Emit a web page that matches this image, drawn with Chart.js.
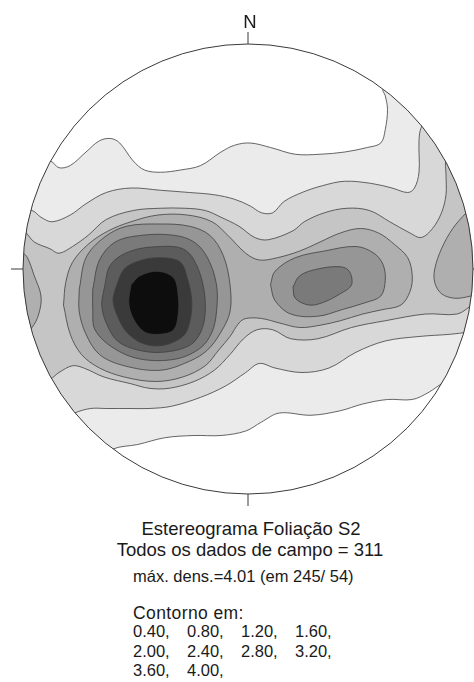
<!DOCTYPE html>
<html lang="pt">
<head>
<meta charset="utf-8">
<title>Estereograma Foliação S2</title>
<script src="https://cdn.jsdelivr.net/npm/chart.js@4.4.1/dist/chart.umd.min.js"></script>
<style>
  html, body { margin: 0; padding: 0; background: #ffffff; }
  body { width: 474px; height: 682px; position: relative; overflow: hidden;
         font-family: "Liberation Sans", Arial, sans-serif; color: #1a1a1a; }
  #net { position: absolute; left: 0; top: 0; width: 474px; height: 515px; }
  .t { position: absolute; white-space: nowrap; line-height: 1; }
  .big { font-size: 18.5px; }
  .small { font-size: 16.5px; }
  .label { font-size: 17.5px; letter-spacing: 0.4px; }
  .centre { transform: translateX(-50%); }
  .col { display: inline-block; width: 54px; }
</style>
</head>
<body>
<div id="net"><canvas id="chart"></canvas></div>
<div class="t big centre" id="north" style="left:250px; top:13px;">N</div>
<div class="t big centre" id="title1" style="left:251px; top:520px;"></div>
<div class="t big centre" id="title2" style="left:250px; top:541px;"></div>
<div class="t small" id="maxline" style="left:133px; top:568px;"></div>
<div class="t label" id="contlabel" style="left:133px; top:605px;"></div>
<div class="t small" id="row1" style="left:133px; top:623px;"></div>
<div class="t small" id="row2" style="left:133px; top:643px;"></div>
<div class="t small" id="row3" style="left:133px; top:662px;"></div>

<script>
// ---- Data: Schmidt net, lower hemisphere; coordinates in % of the net radius (E = +x, N = +y)
const datasetName = 'Estereograma Foliação S2';
const fieldCount = 311;
const maxDensity = 4.01;
const maxTrend = 245;
const maxPlunge = 54;
const levels = [0.40, 0.80, 1.20, 1.60, 2.00, 2.40, 2.80, 3.20, 3.60, 4.00];

// 0.40 contour: northern and southern branches (west -> east), ends run past the primitive
const c040_top = [[-97,46],[-88,48],[-84,45],[-79,46],[-72,52],[-66,57],[-61,58],[-57,56],[-51,48],[-46,44],[-39,43],[-30,44],[-21,46],[-12,52],[-6,55],[1,56],[10,54],[21,51],[32,51],[43,52],[53,54],[59,56],[61,62],[62,71],[61,77],[60,80],[68,89]];
const c040_bottom = [[-68,-86],[-60,-80],[-49,-78],[-37,-75],[-24,-74],[-12,-74],[-1,-72],[6,-68],[14,-64],[28,-65],[41,-63],[51,-60],[62,-58],[73,-58],[80,-55],[88,-50],[102,-46]];

// 0.80 contour
const c080_top = [[-104,26],[-96,26],[-92,23],[-87,21],[-79,24],[-72,29],[-63,34],[-52,36],[-39,35],[-26,34],[-15,33],[-6,31],[1,28],[6,25],[11,25],[16,30],[24,34],[33,37],[43,39],[55,38],[64,36],[71,34],[74,36],[76,43],[76,57],[77,63],[82,72]];
const c080_bottom = [[-84,-68],[-77,-64],[-70,-62],[-63,-62],[-52,-62],[-44,-62],[-34,-61],[-21,-57],[-10,-52],[-1,-46],[5,-42],[12,-44],[24,-46],[36,-44],[48,-37],[61,-32],[76,-30],[90,-29],[98,-28],[110,-26]];

// 1.20 contour
const c120_top = [[-108,17],[-100,17],[-95,12],[-88,9],[-84,7],[-78,10],[-71,15],[-63,22],[-51,26],[-39,27],[-28,27],[-19,26],[-12,23],[-4,19],[3,14],[9,13],[20,17],[25,21],[34,25],[44,27],[54,26],[63,21],[72,16],[77,14],[82,18],[86,25],[88,33],[88,42],[88,49],[92,57]];
const c120_bottom = [[-97,-52],[-88,-49],[-84,-46],[-78,-43],[-73,-44],[-64,-48],[-52,-51],[-44,-53],[-35,-53],[-24,-50],[-15,-45],[-8,-38],[-2,-31],[4,-27],[11,-27],[19,-31],[31,-31],[46,-26],[61,-23],[79,-20],[93,-20],[100,-16],[108,-14]];

// 1.60 contour: central closed curve plus the two rim patches (W and E)
const c160_central = [[-82,-16],[-81,-6],[-78,3],[-71,11],[-62,17],[-52,21],[-40,24],[-27,24],[-16,21],[-9,15],[-1,7],[5,4],[13,5],[23,8],[32,12],[41,16],[50,18],[58,16],[65,11],[71,5],[73,-3],[72,-10],[68,-16],[60,-18],[51,-20],[41,-23],[32,-25],[23,-26],[14,-24],[6,-22],[-1,-22],[-4,-24],[-8,-30],[-13,-36],[-19,-43],[-29,-48],[-41,-50],[-55,-48],[-66,-44],[-74,-38],[-79,-29]];
const c160_west = [[-112,12],[-100,7],[-98,5],[-95,-3],[-92,-12],[-93,-20],[-96,-26],[-100,-29],[-112,-34]];
const c160_east = [[112,33],[105,33],[97,25],[91,18],[86,9],[83,0],[83,-6],[86,-11],[92,-13],[99,-12],[105,-10],[112,-10]];

// 2.00 contour: main maximum (W) and secondary maximum (E)
const c200_west = [[-75,-9],[-72,5],[-64,14],[-54,19],[-39,20],[-26,19],[-17,15],[-11,6],[-8,-7],[-8,-19],[-12,-28],[-18,-36],[-26,-41],[-39,-45],[-55,-43],[-66,-38],[-72,-29],[-75,-19]];
const c200_east = [[10,-7],[12,-1],[21,5],[34,8],[48,10],[56,7],[60,2],[61,-5],[59,-12],[52,-15],[42,-18],[31,-21],[19,-20],[12,-14]];

// 2.40 contour
const c240_west = [[-69,-9],[-66,4],[-59,12],[-47,15],[-33,15],[-24,12],[-18,5],[-14,-7],[-14,-19],[-16,-28],[-21,-35],[-32,-40],[-48,-40],[-60,-35],[-68,-27],[-69,-18]];
const c240_east = [[20,-8],[23,-3],[31,0],[41,1],[45,-1],[46,-7],[41,-11],[33,-15],[27,-16],[21,-13]];

// 2.80, 3.20 and 3.60 contours around the maximum
const c280 = [[-64,-9],[-61,2],[-52,8],[-39,10],[-29,9],[-24,4],[-20,-7],[-19,-19],[-21,-28],[-26,-34],[-38,-37],[-49,-36],[-58,-32],[-63,-24],[-65,-16]];
const c320 = [[-59,-9],[-55,0],[-47,4],[-38,5],[-30,3],[-27,-4],[-25,-14],[-26,-24],[-29,-30],[-38,-34],[-47,-33],[-54,-28],[-58,-21],[-60,-14]];
const c360 = [[-52,-7],[-48,-3],[-40,-1],[-33,-4],[-31,-12],[-31,-20],[-33,-27],[-39,-29],[-46,-28],[-51,-22],[-53,-15]];

// ---- Building the filled regions
const NET_R = 100;      // primitive circle radius in data units
const OUT = 130;        // beyond the primitive, used to close bands

function band(upper, lower) {
  const u0 = upper[0], u1 = upper[upper.length - 1];
  const l0 = lower[0], l1 = lower[lower.length - 1];
  return [...upper, [OUT, u1[1]], [OUT, l1[1]], ...lower.slice().reverse(), [-OUT, l0[1]], [-OUT, u0[1]]];
}
const closeRing = ring => [...ring, ring[0]];

const regions = [
  [band(c040_top, c040_bottom)],
  [band(c080_top, c080_bottom)],
  [band(c120_top, c120_bottom)],
  [c160_central, c160_west, c160_east],
  [c200_west, c200_east],
  [c240_west, c240_east],
  [c280],
  [c320],
  [c360]
];

const shades = ['#ebebeb', '#d8d8d8', '#c5c5c5', '#afafaf', '#969696', '#7a7a7a', '#5c5c5c', '#3a3a3a', '#0d0d0d'];

const datasets = [];
regions.forEach((rings, i) => {
  rings.forEach(ring => {
    datasets.push({
      label: '> ' + levels[i].toFixed(2),
      data: closeRing(ring).map(([x, y]) => ({ x, y })),
      showLine: true,
      fill: 'shape',
      backgroundColor: shades[i],
      borderColor: '#404040',
      borderWidth: 0.8,
      pointRadius: 0,
      pointHoverRadius: 0,
      tension: 0.35,
      order: 100 - i
    });
  });
});

// Clip the density fill to the primitive, then draw the primitive and its ticks
const primitivePlugin = {
  id: 'primitive',
  beforeDatasetsDraw(chart) {
    const { ctx, scales: { x, y } } = chart;
    const cx = x.getPixelForValue(0), cy = y.getPixelForValue(0);
    const r = x.getPixelForValue(NET_R) - cx;
    ctx.save();
    ctx.beginPath();
    ctx.arc(cx, cy, r, 0, Math.PI * 2);
    ctx.clip();
  },
  afterDatasetsDraw(chart) {
    const { ctx, scales: { x, y } } = chart;
    ctx.restore();
    const cx = x.getPixelForValue(0), cy = y.getPixelForValue(0);
    const r = x.getPixelForValue(NET_R) - cx;
    const tick = 12;
    ctx.save();
    ctx.strokeStyle = '#3a3a3a';
    ctx.lineWidth = 1;
    ctx.beginPath();
    ctx.arc(cx, cy, r, 0, Math.PI * 2);
    ctx.stroke();
    ctx.beginPath();
    ctx.moveTo(cx, cy - r); ctx.lineTo(cx, cy - r - tick);
    ctx.moveTo(cx, cy + r); ctx.lineTo(cx, cy + r + tick);
    ctx.moveTo(cx - r, cy); ctx.lineTo(cx - r - tick, cy);
    ctx.moveTo(cx + r, cy); ctx.lineTo(cx + r + tick, cy);
    ctx.stroke();
    ctx.restore();
  }
};

new Chart(document.getElementById('chart'), {
  type: 'scatter',
  data: { datasets },
  options: {
    responsive: true,
    maintainAspectRatio: false,
    animation: false,
    events: [],
    layout: { padding: 0 },
    scales: {
      x: { type: 'linear', min: -110.222, max: 100.444, display: false },
      y: { type: 'linear', min: -109.333, max: 119.556, display: false }
    },
    plugins: {
      legend: { display: false },
      tooltip: { enabled: false },
      title: { display: false }
    }
  },
  plugins: [primitivePlugin]
});

// ---- Caption
document.getElementById('title1').textContent = datasetName;
document.getElementById('title2').textContent = 'Todos os dados de campo = ' + fieldCount;
document.getElementById('maxline').textContent =
  'máx. dens.=' + maxDensity.toFixed(2) + ' (em ' + maxTrend + '/ ' + maxPlunge + ')';
document.getElementById('contlabel').textContent = 'Contorno em:';
const rowIds = ['row1', 'row2', 'row3'];
rowIds.forEach((id, r) => {
  const el = document.getElementById(id);
  levels.slice(r * 4, r * 4 + 4).forEach(v => {
    const s = document.createElement('span');
    s.className = 'col';
    s.textContent = v.toFixed(2) + ',';
    el.appendChild(s);
  });
});
</script>
</body>
</html>
